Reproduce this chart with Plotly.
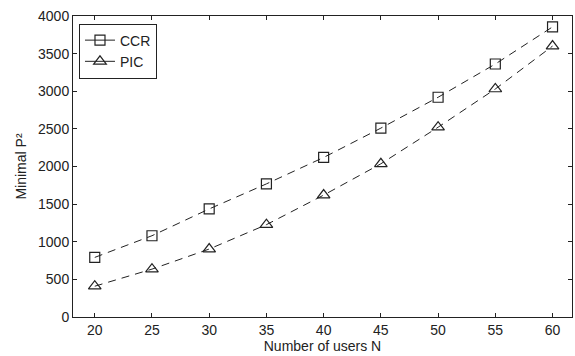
import plotly.graph_objects as go

users_n = [20, 25, 30, 35, 40, 45, 50, 55, 60]
ccr = [792, 1080, 1436, 1769, 2120, 2510, 2920, 3362, 3855]
pic = [409, 636, 903, 1227, 1620, 2036, 2522, 3030, 3600]
x_ticks = [20, 25, 30, 35, 40, 45, 50, 55, 60]
y_ticks = [0, 500, 1000, 1500, 2000, 2500, 3000, 3500, 4000]
series_names = ["CCR", "PIC"]
symbols = ["square-open", "triangle-up-open"]

fig = go.Figure()
for name, vals, sym in zip(series_names, [ccr, pic], symbols):
    fig.add_trace(go.Scatter(
        x=users_n, y=vals, name=name, mode="lines+markers", showlegend=False,
        line=dict(color="#222", width=1, dash="8px,6px"),
        marker=dict(symbol=sym, size=10 if sym.startswith("square") else 11,
                    color="#222", line=dict(width=1.2)),
    ))
# legend entries drawn with solid lines, as in the reference
for name, sym in zip(series_names, symbols):
    fig.add_trace(go.Scatter(
        x=[None], y=[None], name=name, mode="lines+markers",
        line=dict(color="#222", width=1),
        marker=dict(symbol=sym, size=10 if sym.startswith("square") else 11,
                    color="#222", line=dict(width=1.2)),
    ))

font = dict(family="Liberation Sans, Arial", size=14, color="#222")
axis_common = dict(
    showgrid=False, zeroline=False, showline=True, linecolor="#222", linewidth=1,
    mirror="ticks", ticks="inside", ticklen=4, tickcolor="#222",
    tickfont=font,
)
fig.update_xaxes(range=[18.1, 61.7], tickvals=x_ticks,
                 title=dict(text="Number of users N", standoff=2, font=font),
                 **axis_common)
fig.update_yaxes(range=[0, 4000], tickvals=y_ticks,
                 title=dict(text="Minimal P²", standoff=8, font=font),
                 **axis_common)

fig.update_layout(
    width=575, height=356,
    margin=dict(l=73, r=3, t=16, b=39),
    plot_bgcolor="white", paper_bgcolor="white",
    showlegend=True,
    legend=dict(x=0.012, y=0.975, xanchor="left", yanchor="top",
                bgcolor="white", bordercolor="#222", borderwidth=1,
                font=font, itemwidth=30, tracegroupgap=0),
)
fig.write_html("out.html")
